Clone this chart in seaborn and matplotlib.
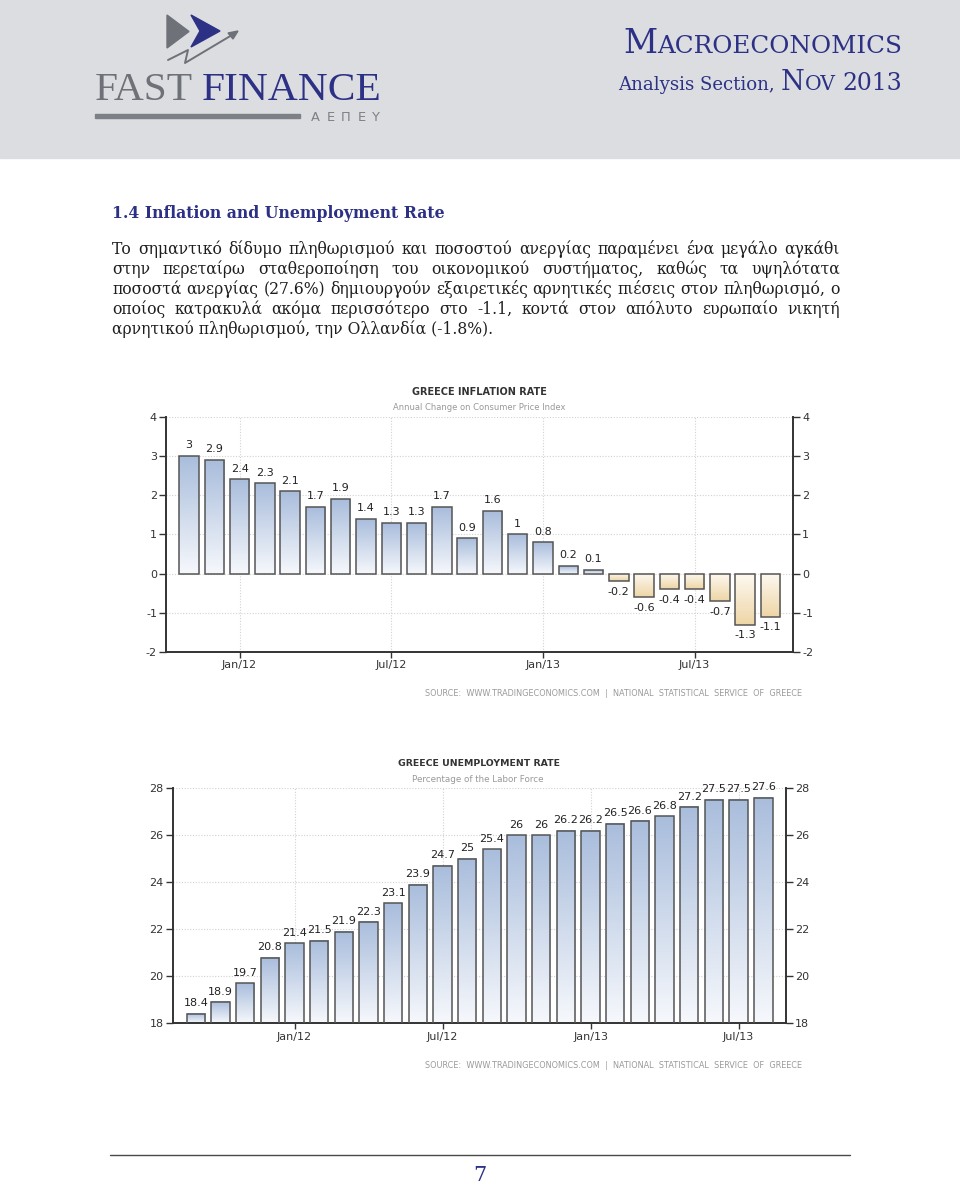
import numpy as np
import pandas as pd
import matplotlib
matplotlib.use("Agg")
import matplotlib.pyplot as plt
import seaborn as sns
from matplotlib.colors import LinearSegmentedColormap
from matplotlib.patches import Rectangle, Polygon

# ---------- DATA ----------
INFL_MONTHS = ["2011-11", "2011-12", "2012-01", "2012-02", "2012-03", "2012-04",
               "2012-05", "2012-06", "2012-07", "2012-08", "2012-09", "2012-10",
               "2012-11", "2012-12", "2013-01", "2013-02", "2013-03", "2013-04",
               "2013-05", "2013-06", "2013-07", "2013-08", "2013-09", "2013-10"]
INFL_VALUES = [3, 2.9, 2.4, 2.3, 2.1, 1.7, 1.9, 1.4, 1.3, 1.3, 1.7, 0.9,
               1.6, 1, 0.8, 0.2, 0.1, -0.2, -0.6, -0.4, -0.4, -0.7, -1.3, -1.1]

UNEMP_MONTHS = ["2011-09", "2011-10", "2011-11", "2011-12", "2012-01", "2012-02",
                "2012-03", "2012-04", "2012-05", "2012-06", "2012-07", "2012-08",
                "2012-09", "2012-10", "2012-11", "2012-12", "2013-01", "2013-02",
                "2013-03", "2013-04", "2013-05", "2013-06", "2013-07", "2013-08"]
UNEMP_VALUES = [18.4, 18.9, 19.7, 20.8, 21.4, 21.5, 21.9, 22.3, 23.1, 23.9, 24.7, 25,
                25.4, 26, 26, 26.2, 26.2, 26.5, 26.6, 26.8, 27.2, 27.5, 27.5, 27.6]

TICK_MONTHS = ["2012-01", "2012-07", "2013-01", "2013-07"]
TICK_LABELS = ["Jan/12", "Jul/12", "Jan/13", "Jul/13"]
INFL_YTICKS = [-2, -1, 0, 1, 2, 3, 4]
UNEMP_YTICKS = [18, 20, 22, 24, 26, 28]

HEADING = "1.4 Inflation and Unemployment Rate"
PARAGRAPH = [
    "Το σημαντικό δίδυμο πληθωρισμού και ποσοστού ανεργίας παραμένει ένα μεγάλο αγκάθι",
    "στην περεταίρω σταθεροποίηση του οικονομικού συστήματος, καθώς τα υψηλότατα",
    "ποσοστά ανεργίας (27.6%) δημιουργούν εξαιρετικές αρνητικές πιέσεις στον πληθωρισμό, ο",
    "οποίος κατρακυλά ακόμα περισσότερο στο -1.1, κοντά στον απόλυτο ευρωπαίο νικητή",
    "αρνητικού πληθωρισμού, την Ολλανδία (-1.8%).",
]
SOURCE = "SOURCE:  WWW.TRADINGECONOMICS.COM  |  NATIONAL  STATISTICAL  SERVICE  OF  GREECE"

# ---------- STYLE ----------
NAVY = "#2d3185"
GREY_LOGO = "#6e7278"
BAND = "#dcdde0"
TXT = "#333333"
EDGE = "#555555"
BLUE_TOP, BLUE_BASE = "#a9bddc", "#f6f8fc"
TAN_END, TAN_BASE = "#eed5a6", "#fdf9f1"
BODY_FONT = "DejaVu Serif"

sns.set_theme(style="white")
plt.rcParams["font.family"] = ["DejaVu Sans"]
plt.rcParams["axes.unicode_minus"] = False

fig = plt.figure(figsize=(9.6, 11.87), dpi=100)
R = fig.canvas.get_renderer()

# page layer in pixel units (y down)
page = fig.add_axes([0, 0, 1, 1], zorder=0)
page.set_xlim(0, 960)
page.set_ylim(1187, 0)
page.axis("off")


def width_of(t):
    return t.get_window_extent(renderer=R).width


def fit_text(x, y, s, width, **kw):
    t = page.text(x, y, s, **kw)
    t.set_fontsize(t.get_fontsize() * width / width_of(t))
    return t


def run_text(x, y, pieces, width, family, weight="normal"):
    # pieces: (text, relative size, colour, gap after in em)
    arts = [page.text(0, y, s, fontsize=10 * k, color=c, family=family,
                      weight=weight, va="baseline") for s, k, c, g in pieces]
    total = sum(width_of(a) + g * 10 * k * 100 / 72 for a, (s, k, c, g) in zip(arts, pieces))
    f = width / total
    cx = x
    for a, (s, k, c, g) in zip(arts, pieces):
        a.set_fontsize(10 * k * f)
        a.set_x(cx)
        cx += width_of(a) + g * 10 * k * f * 100 / 72


# ---------- HEADER ----------
page.add_patch(Rectangle((0, 0), 960, 158, color=BAND, zorder=0))
page.add_patch(Polygon([(167, 15), (167, 48), (189, 31.5)], color=GREY_LOGO))
page.add_patch(Polygon([(191, 15), (220, 31), (191, 47), (200, 31)], color=NAVY))
page.plot([168, 188, 185, 232], [60, 50, 63, 35], color=GREY_LOGO, lw=1.4)
page.add_patch(Polygon([(238, 31), (228, 33), (233, 39)], color=GREY_LOGO))
run_text(95, 100, [("FAST", 1, GREY_LOGO, 0.22), ("FINANCE", 1, NAVY, 0)], 287,
         "Liberation Serif")
page.add_patch(Rectangle((95, 114), 205, 4, color="#7d8187"))
run_text(311, 121, [(ch, 1, "#7d8187", 0.5 if i < 4 else 0) for i, ch in enumerate("ΑΕΠΕΥ")],
         69, "DejaVu Sans")
run_text(623, 53, [("M", 1.0, NAVY, 0), ("ACROECONOMICS", 0.74, NAVY, 0)], 279,
         "DejaVu Serif")
run_text(618, 90, [("Analysis Section,", 1.0, NAVY, 0.35),
                   ("N", 1.5, NAVY, 0), ("OV", 1.12, NAVY, 0.3), ("2013", 1.3, NAVY, 0)],
         284, "DejaVu Serif")

# ---------- HEADING + BODY ----------
fit_text(112, 217.5, HEADING, 333, fontsize=12, family=BODY_FONT,
         weight="bold", color=NAVY, va="baseline")

space_em = 0.318
natural = []
for line in PARAGRAPH[:-1]:
    probes = [page.text(0, 0, w, fontsize=10, family=BODY_FONT) for w in line.split()]
    natural.append(sum(width_of(p) for p in probes) + (len(probes) - 1) * 10 * space_em * 100 / 72)
    for p in probes:
        p.remove()
body_fs = 10 * 728 / max(natural)

# justified lines, last line set ragged
for i, line in enumerate(PARAGRAPH[:-1]):
    y = 254 + 20 * i
    words = line.split()
    arts = [page.text(0, y, w, fontsize=body_fs, family=BODY_FONT,
                      color="#1e1e1e", va="baseline") for w in words]
    ws = [width_of(a) for a in arts]
    gap = (728 - sum(ws)) / (len(words) - 1)
    cx = 112
    for a, w in zip(arts, ws):
        a.set_x(cx)
        cx += w + gap
page.text(112, 254 + 20 * (len(PARAGRAPH) - 1), PARAGRAPH[-1], fontsize=body_fs,
          family=BODY_FONT, color="#1e1e1e", va="baseline")


# ---------- CHARTS ----------
def shade_bars(ax):
    lo = ax.get_ylim()[0]
    grad = np.linspace(0, 1, 128).reshape(-1, 1)
    pos_cmap = LinearSegmentedColormap.from_list("pos", [BLUE_BASE, BLUE_TOP])
    neg_cmap = LinearSegmentedColormap.from_list("neg", [TAN_END, TAN_BASE])
    for p in ax.patches:
        x0, w = p.get_x(), p.get_width()
        a, b = sorted([p.get_y(), p.get_y() + p.get_height()])
        a = max(a, lo)
        cmap = pos_cmap if p.get_y() + p.get_height() > 0 and p.get_y() >= 0 else neg_cmap
        ax.imshow(grad, extent=[x0, x0 + w, a, b], origin="lower", cmap=cmap,
                  aspect="auto", zorder=2, clip_path=p, interpolation="bilinear")
        p.set_facecolor("none")
        p.set_edgecolor(EDGE)
        p.set_linewidth(1.1)
        p.set_zorder(3)


def draw_chart(rect, months, values, yticks, xlim, bar_w):
    ax = fig.add_axes(rect, zorder=1)
    df = pd.DataFrame({"month": months, "value": values})
    sns.barplot(data=df, x="month", y="value", ax=ax, width=bar_w, color=BLUE_TOP,
                saturation=1, errorbar=None)
    ax.set_ylim(yticks[0], yticks[-1])
    shade_bars(ax)
    ax.bar_label(ax.containers[0], fmt="%g", padding=4, fontsize=8, color="#222222")
    ax.set_xlim(*xlim)
    ax.set_ylim(yticks[0], yticks[-1])
    ax.set_yticks(yticks)
    ax.set_xticks([months.index(m) for m in TICK_MONTHS])
    ax.set_xticklabels(TICK_LABELS)
    ax.set_xlabel("")
    ax.set_ylabel("")
    ax.set_facecolor("white")
    ax.set_axisbelow(True)
    ax.grid(True, linestyle=(0, (1, 1.5)), color="#d2d2d2", lw=0.8)
    for side in ["left", "right", "bottom"]:
        ax.spines[side].set_visible(True)
        ax.spines[side].set_color("#333333")
        ax.spines[side].set_linewidth(1.4)
    ax.spines["top"].set_visible(False)
    ax.tick_params(axis="y", left=True, right=True, labelleft=True, labelright=True,
                   length=5, width=1, color="#333333", labelsize=8,
                   labelcolor=TXT, pad=1.5)
    ax.tick_params(axis="x", bottom=True, length=4, width=1, color="#333333",
                   labelsize=8, labelcolor=TXT, pad=2)
    return ax


draw_chart([166 / 960, 1 - 652 / 1187, 627 / 960, 235.3 / 1187],
           INFL_MONTHS, INFL_VALUES, INFL_YTICKS, (-0.91, 23.89), 0.77)
draw_chart([172.7 / 960, 1 - 1023.3 / 1187, 613 / 960, 235 / 1187],
           UNEMP_MONTHS, UNEMP_VALUES, UNEMP_YTICKS, (-0.94, 23.91), 0.75)

# chart titles and sources
fit_text(479, 392, "GREECE INFLATION RATE", 136, fontsize=8, weight="bold",
         color=TXT, ha="center", va="center")
fit_text(479, 408, "Annual Change on Consumer Price Index", 172, fontsize=7,
         color="#999999", ha="center", va="center")
fit_text(802, 693, SOURCE, 382, fontsize=6, color="#9a9a9a", ha="right", va="center")
fit_text(479.5, 763, "GREECE UNEMPLOYMENT RATE", 162, fontsize=8, weight="bold",
         color=TXT, ha="center", va="center")
fit_text(478, 780, "Percentage of the Labor Force", 133, fontsize=7,
         color="#999999", ha="center", va="center")
fit_text(802, 1065, SOURCE, 382, fontsize=6, color="#9a9a9a", ha="right", va="center")

# ---------- FOOTER ----------
page.plot([110, 850], [1155, 1155], color="#4a4a4a", lw=1)
page.text(480, 1181, "7", fontsize=15, family="DejaVu Serif", color=NAVY,
          ha="center", va="baseline")

fig.savefig("out.png", dpi=100, facecolor="white")
